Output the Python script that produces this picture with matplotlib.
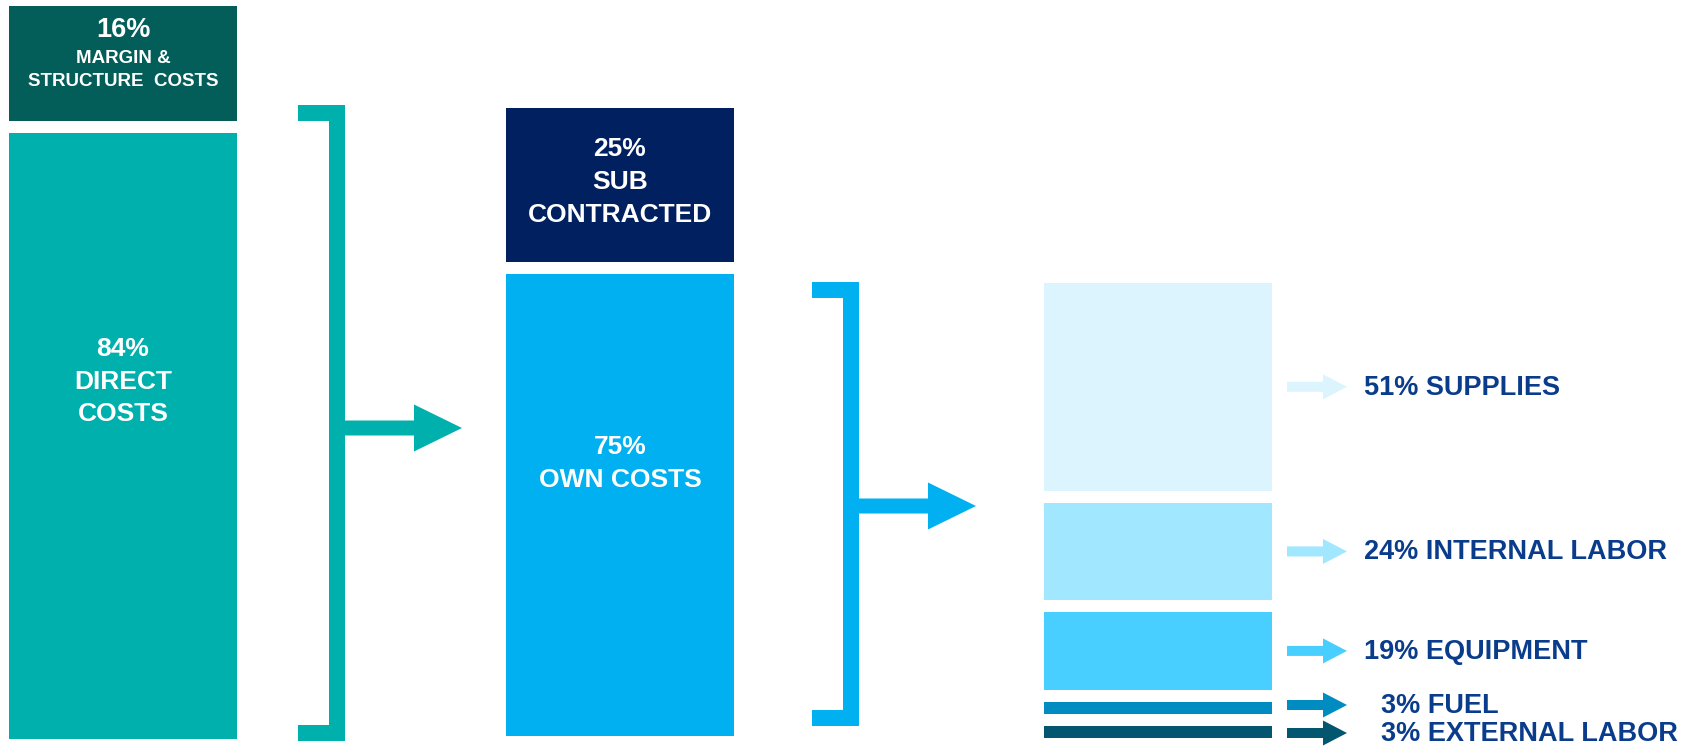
import matplotlib.pyplot as plt
from matplotlib.patches import Rectangle, Polygon, FancyArrow

# column 1: total price split
col1_labels = ["MARGIN &\nSTRUCTURE  COSTS", "DIRECT\nCOSTS"]
col1_values = [16, 84]
col1_colors = ["#035E5A", "#00B0AD"]

# column 2: direct costs split
col2_labels = ["SUB\nCONTRACTED", "OWN COSTS"]
col2_values = [25, 75]
col2_colors = ["#00205F", "#00B0F0"]

# column 3: own costs split
col3_labels = ["SUPPLIES", "INTERNAL LABOR", "EQUIPMENT", "FUEL", "EXTERNAL LABOR"]
col3_values = [51, 24, 19, 3, 3]
col3_colors = ["#DCF4FD", "#A0E7FF", "#48CFFF", "#008CC0", "#02566F"]

W, H = 1689, 746
fig = plt.figure(figsize=(W / 100, H / 100), dpi=100)
ax = fig.add_axes([0, 0, 1, 1])
ax.set_xlim(0, W)
ax.set_ylim(H, 0)
ax.axis("off")

GAP = 12
BOLD = ["Liberation Sans", "DejaVu Sans"]


def stack(x0, width, top, bottom, values, colors):
    # returns (y_top, y_bottom) of every segment, heights proportional to values
    avail = bottom - top - GAP * (len(values) - 1)
    total = sum(values)
    spans = []
    y = top
    for v, c in zip(values, colors):
        h = avail * v / total
        ax.add_patch(Rectangle((x0, y), width, h, facecolor=c, edgecolor="none"))
        spans.append((y, y + h))
        y += h + GAP
    return spans


def bracket(x_left, x_right, top, bottom, arrow_y, tip_x, color, t=16):
    pts = [(x_left, top), (x_right, top), (x_right, bottom), (x_left, bottom),
           (x_left, bottom - t), (x_right - t, bottom - t), (x_right - t, top + t),
           (x_left, top + t)]
    ax.add_patch(Polygon(pts, closed=True, facecolor=color, edgecolor="none"))
    ax.add_patch(FancyArrow(x_right - 1, arrow_y, tip_x - x_right + 1, 0, width=15,
                            head_width=47, head_length=48, length_includes_head=True,
                            facecolor=color, edgecolor="none"))


def box_text(x, y, s, size=19):
    ax.text(x, y, s, color="white", fontsize=size, fontweight="bold", family=BOLD,
            ha="center", va="center", linespacing=1.45)


# column 1
s1 = stack(9, 228, 6, 739, col1_values, col1_colors)
y0, y1 = s1[0]
ym = (y0 + y1) / 2
box_text(123, ym - 34, f"{col1_values[0]}%", size=19.5)
ax.text(123, ym + 6, col1_labels[0], color="white", fontsize=13.5, fontweight="bold",
        family=BOLD, ha="center", va="center", linespacing=1.45)
y0, y1 = s1[1]
box_text(123, y0 + 0.41 * (y1 - y0), f"{col1_values[1]}%\n{col1_labels[1]}")

bracket(298, 345, 105, 741, 428, 462, col1_colors[1])

# column 2
s2 = stack(506, 228, 108, 736, col2_values, col2_colors)
y0, y1 = s2[0]
box_text(620, (y0 + y1) / 2 - 3, f"{col2_values[0]}%\n{col2_labels[0]}")
y0, y1 = s2[1]
box_text(620, y0 + 0.41 * (y1 - y0), f"{col2_values[1]}%\n{col2_labels[1]}")

bracket(812, 859, 282, 726, 506, 976, col2_colors[1])

# column 3 with small arrows and labels
s3 = stack(1044, 228, 283, 738, col3_values, col3_colors)
label_y = [(a + b) / 2 for a, b in s3]
# spread labels that would collide, keep the last one inside the figure
for i in range(1, len(label_y)):
    label_y[i] = max(label_y[i], label_y[i - 1] + 28)
label_y[-1] = min(label_y[-1], H - 13)
for i in range(len(label_y) - 2, -1, -1):
    label_y[i] = min(label_y[i], label_y[i + 1] - 28)

for ym, v, lab, c in zip(label_y, col3_values, col3_labels, col3_colors):
    ax.add_patch(FancyArrow(1287, ym, 60, 0, width=10, head_width=25, head_length=24,
                            length_includes_head=True, facecolor=c, edgecolor="none"))
    tx = 1364 if v >= 10 else 1381
    ax.text(tx, ym + 1, f"{v}% {lab}", color="#0A3C8C", fontsize=19.5, fontweight="bold",
            family=BOLD, ha="left", va="center")

fig.savefig("out.png", dpi=100)
